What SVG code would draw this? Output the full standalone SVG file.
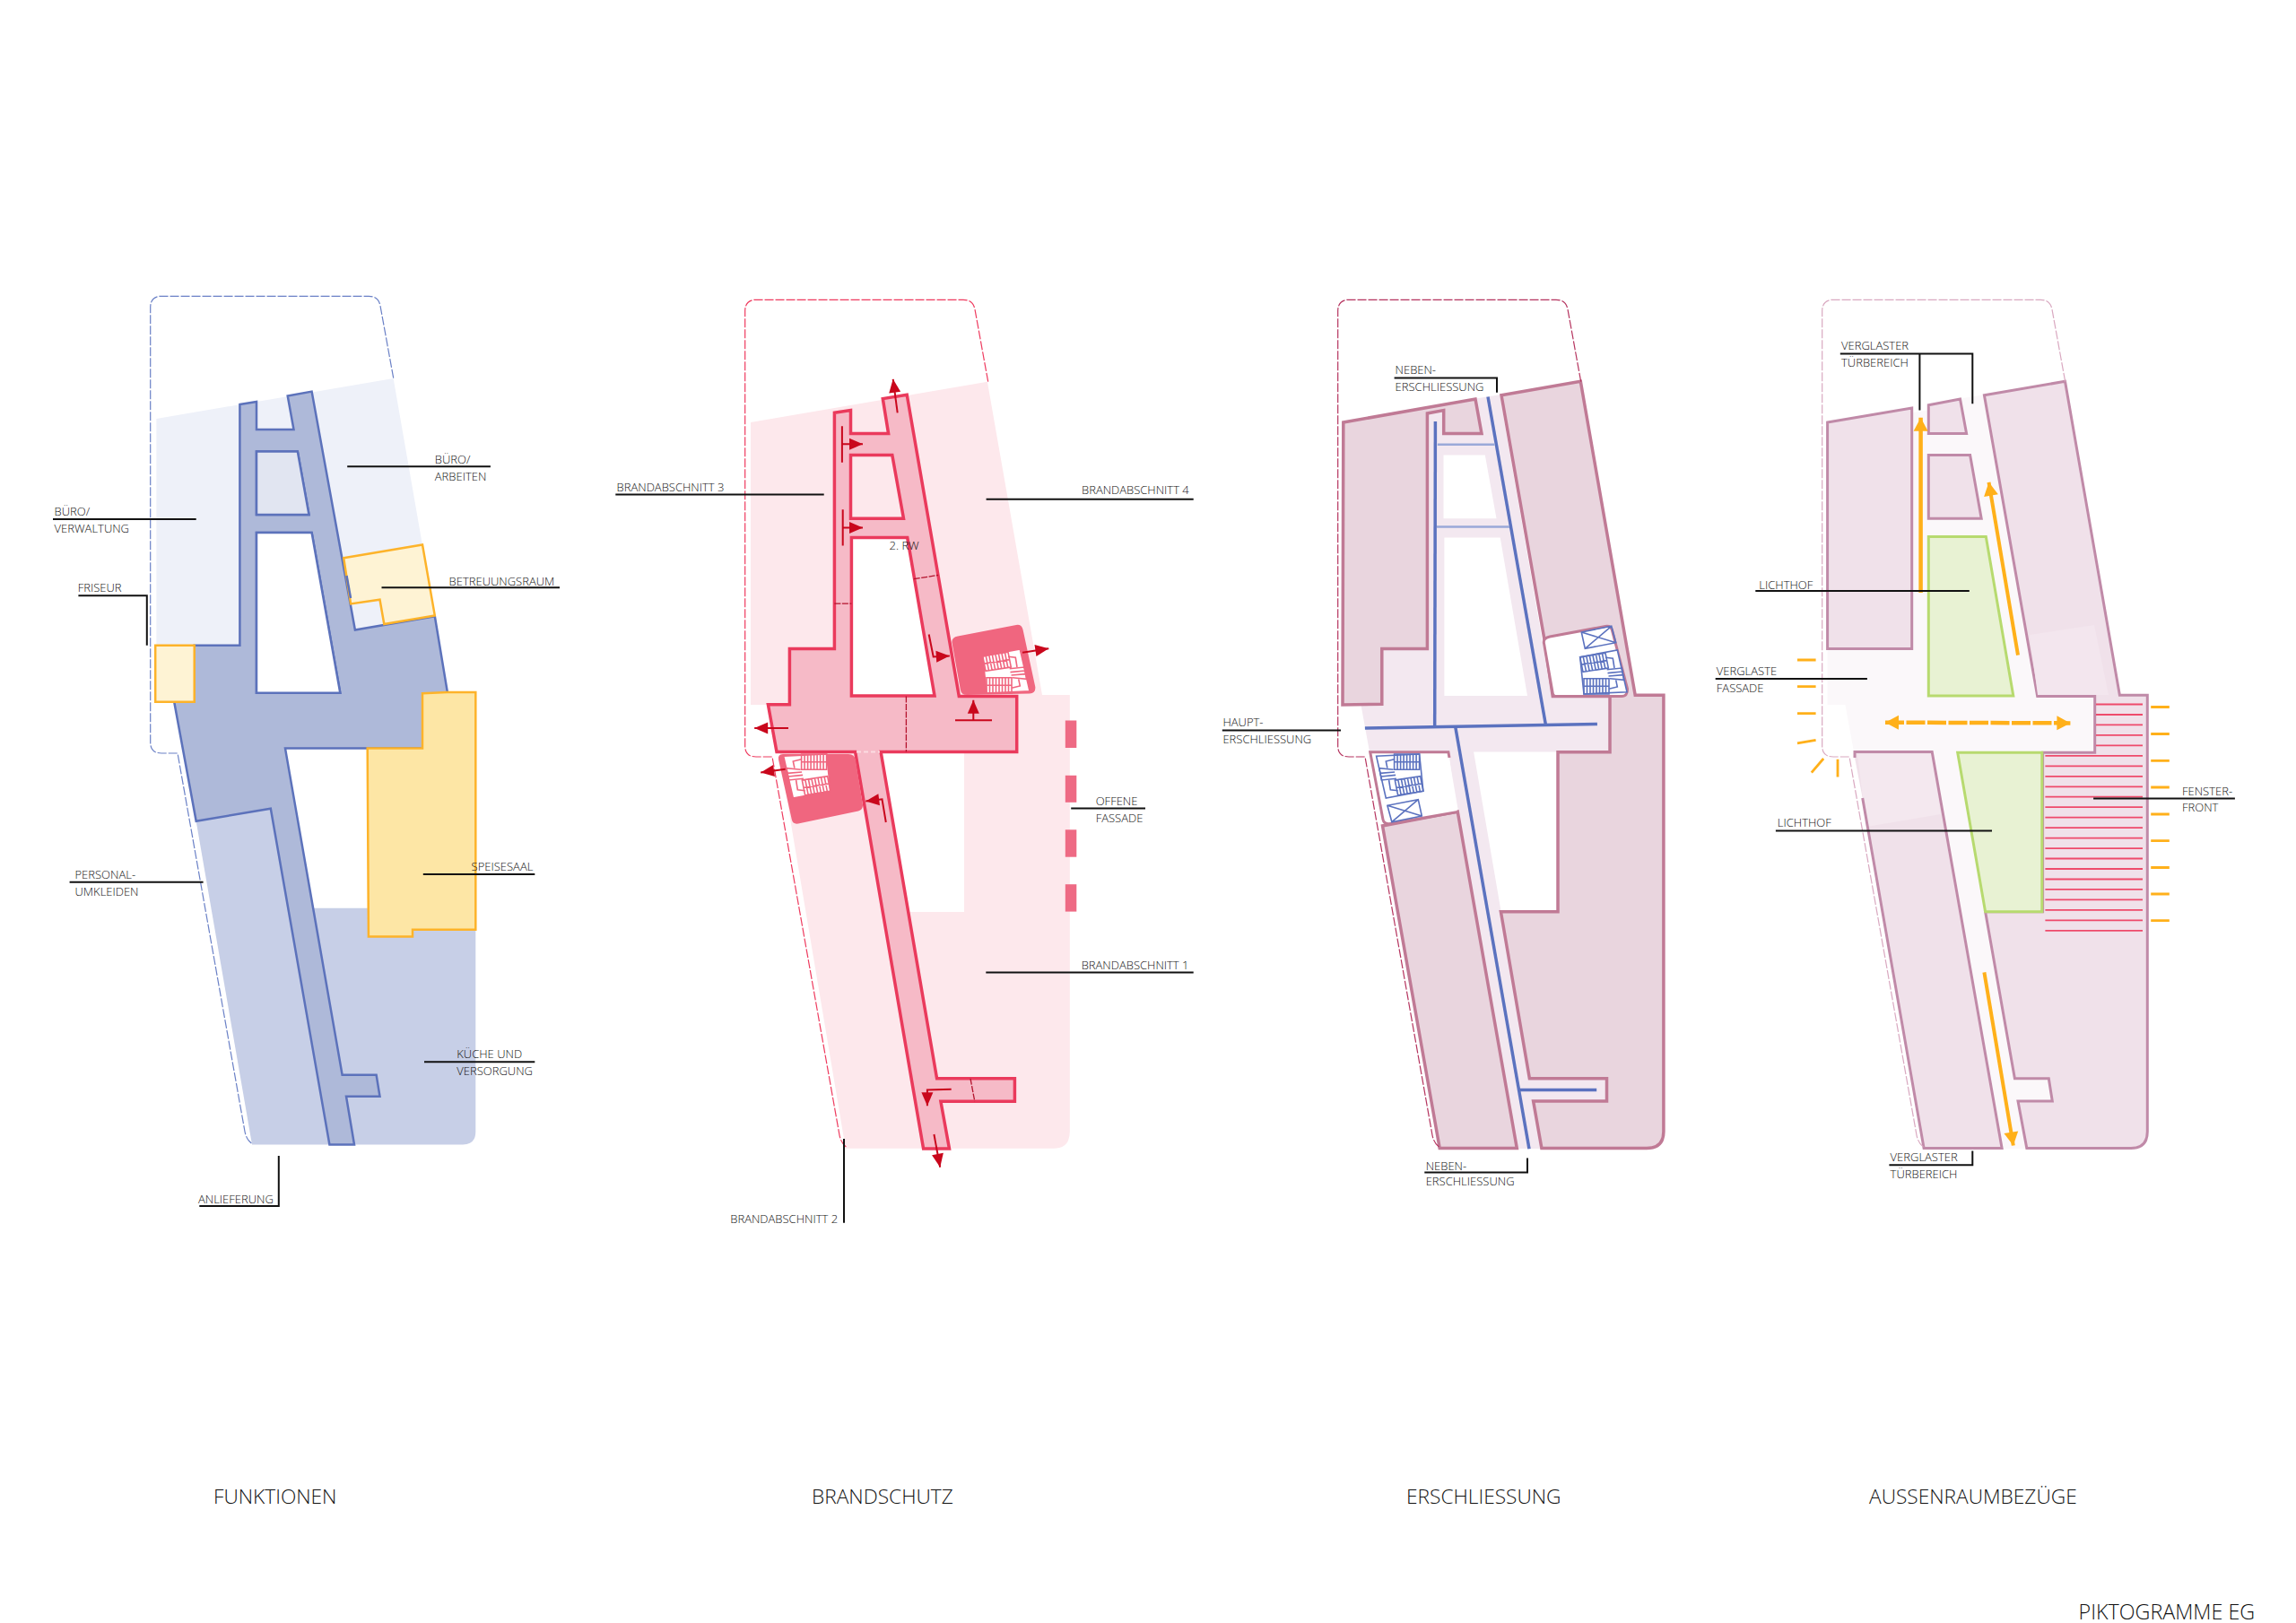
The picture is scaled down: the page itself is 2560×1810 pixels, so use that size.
<svg xmlns="http://www.w3.org/2000/svg" xmlns:xlink="http://www.w3.org/1999/xlink" width="2560" height="1810" viewBox="0 0 2560 1810">
<style>
text{font-family:"Open Sans","Noto Sans","Liberation Sans",sans-serif;font-weight:300;fill:#111}
.l{font-size:13px}
.t{font-size:22.7px}
.lead{fill:none;stroke:#111;stroke-width:2}
.dash{fill:none;stroke-width:1.2;stroke-dasharray:10 2}
.y{fill:#fef3d4;stroke:#fdb32a;stroke-width:2.5}
.blk3{fill:#e9d5de;stroke:#c07a95;stroke-width:3.5;stroke-linejoin:miter}
.blk4{fill:#f0e1ea;stroke:#c08aa8;stroke-width:3}
.gr{fill:#e8f2d3;stroke:#b7da6f;stroke-width:3}
.bl{stroke:#5b72bf;stroke-width:3.5;fill:none}
.bl2{stroke:#9aa9d8;stroke-width:2.5;fill:none}
.ar{stroke:#c9071c;stroke-width:2;fill:none}
.ard{stroke:#b3122c;stroke-width:1.3;fill:none;stroke-dasharray:7 1.5}
.or{stroke:#ffb01a;stroke-width:4;fill:none}
.orw{stroke:#ffb01a;stroke-width:4.5;fill:none}
.ort{stroke:#ffb01a;stroke-width:2.8;fill:none}
.rl{stroke:#ee4a6b;stroke-width:1.8}
.st{fill:none;stroke-width:1.6}
.st .bg{fill:#fff}
</style>
<defs>
<marker id="ah" markerUnits="userSpaceOnUse" markerWidth="17" markerHeight="14" refX="16" refY="7" orient="auto"><path d="M1,0.5 L16,7 L1,13.5 Z" fill="#c9071c"/></marker>
<marker id="oh" markerUnits="userSpaceOnUse" markerWidth="17" markerHeight="17" refX="16" refY="8.5" orient="auto"><path d="M1,0.5 L16,8.5 L1,16.5 Z" fill="#ffb01a"/></marker>
<marker id="ohs" markerUnits="userSpaceOnUse" markerWidth="17" markerHeight="17" refX="1" refY="8.5" orient="auto"><path d="M16,0.5 L1,8.5 L16,16.5 Z" fill="#ffb01a"/></marker>
<path id="corr" fill-rule="evenodd" d="M930.4,460.3 L948.5,457.5 L948.5,483.6 L990.6,483.6 L984.3,444.6 L1011.2,440.3 L1069.3,776.4 L1133.7,776.4 L1133.7,838.5 L982.1,838.5 L1044.6,1202.8 L1131.4,1202.8 L1131.4,1228.2 L1048.9,1228.2 L1058.5,1281.1 L1029.6,1281.1 L953.6,838.5 L866,838.5 L856.4,785.7 L880.4,785.7 L880.4,723.5 L930.4,723.5 Z M948.5,507.5 L994.8,507.5 L1007.5,578.2 L948.5,578.2 Z M949.4,599.6 L1011.7,599.6 L1042,776 L949.4,776 Z"/>
<path id="bound" d="M1101.7,425.7 L1087,345 Q1085,334.3 1074,334.3 L843,334.3 Q830.7,334.3 830.7,347 L830.7,832 Q830.7,844 843,844 L861,844 L936,1266 Q938,1276 945,1280"/>
<g id="stair" class="st">
<path class="bg" d="M1761.7,732.7 L1803.3,725 L1814,771.7 L1766,774 Z"/>
<path d="M1761.7,732.7 L1790,728.3 L1793.3,745 L1765,749.3 Z M1765.2,732.2 L1768.5,748.8 M1768.8,731.6 L1772.1,748.2 M1772.3,731 L1775.6,747.6 M1775.9,730.5 L1779.2,747.1 M1779.4,729.9 L1782.7,746.6 M1782.9,729.4 L1786.2,746 M1786.5,728.9 L1789.8,745.5 M1763.4,741 L1791.6,736.6"/>
<path d="M1766,756.7 L1794,756.7 L1794,774 L1766,774 Z M1769.5,756.7 V774 M1773,756.7 V774 M1776.5,756.7 V774 M1780,756.7 V774 M1783.5,756.7 V774 M1787,756.7 V774 M1790.5,756.7 V774 M1766,765.3 H1794"/>
<path d="M1791.7,746.7 L1808.3,745 L1810.7,758.3 L1795,756.7 M1792.5,750.6 L1809,749 M1793.5,754 L1810,752.6"/>
<path d="M1790,733.3 L1798.3,734.3 L1800,745 M1801.7,758.3 L1803.3,766 L1794,768.3"/>
</g>
<path id="lift" class="st" d="M1763.3,705 L1796.7,698.3 L1801.7,716.7 L1767.3,723.3 Z M1763.3,705 L1801.7,716.7 M1796.7,698.3 L1767.3,723.3"/>
</defs>
<rect width="2560" height="1810" fill="#fff"/>

<g id="panel-funktionen">
<path d="M174.4,467 L438.6,421.9 L484.8,687.3 L395.9,702.5 L267.4,719.8 L174.4,719.8 Z" fill="#eef1f9"/>
<path d="M218.7,916 L301.8,901.7 L367.4,1276.4 L281,1276.4 Z" fill="#c7cfe7"/>
<path d="M345,1012.7 L530.3,1012.7 L530.3,1262 Q530.3,1276.4 516,1276.4 L380,1276.4 Z" fill="#c7cfe7"/>
<path fill-rule="evenodd" fill="#aeb9d9" stroke="#5c72bb" stroke-width="2.5" d="M267.4,451 L286,447.9 L286,479.1 L327.5,479.1 L320.7,441.4 L347.6,436.6 L395.9,702.5 L484.8,687.3 L498.7,771 L510,834.6 L318,834.6 L381.6,1198.8 L419.6,1198.8 L423.5,1222.8 L386,1222.8 L395,1276.4 L367.4,1276.4 L301.8,901.7 L218.7,915.8 L194.2,782.7 L216.7,782.7 L216.7,719.8 L267.4,719.8 Z M286,503.4 L331.8,503.4 L344.5,574.1 L286,574.1 Z M286,594 L347.6,594 L379.3,772.8 L286,772.8 Z"/>
<path d="M286,503.4 L331.8,503.4 L344.5,574.1 L286,574.1 Z" fill="#e1e5f1" stroke="#5c72bb" stroke-width="2.5"/>
<path d="M286,594 L347.6,594 L379.3,772.8 L286,772.8 Z" fill="#fff" stroke="#5c72bb" stroke-width="2.5"/>
<path class="y" d="M383.2,622.3 L471,607.5 L484.8,686.4 L428.3,696 L423.5,668.7 L391.1,673.4 L383.2,622.3 Z"/>
<path d="M386.5,642 L391,667" fill="none" stroke="#5c72bb" stroke-width="2.5"/>
<path class="y" d="M173.2,719.8 H216.7 V782.7 H173.2 Z"/>
<path d="M471,773.2 L498.7,771.9 L530.3,771.9 L530.3,1036.7 L460,1036.7 L460,1044.5 L410.9,1044.5 L409.7,834.4 L471,834.4 Z" fill="#fde6a5" stroke="#fdb32a" stroke-width="2.5"/>
<use href="#bound" class="dash" stroke="#6a80c6" transform="translate(-663,-4)"/>
<path class="lead" d="M59,578.9 H218.7"/><text class="l" x="60.6" y="575.4">BÜRO/</text><text class="l" x="60.6" y="593.6">VERWALTUNG</text>
<path class="lead" d="M387.2,520.3 H546.9"/><text class="l" x="484.8" y="517.3">BÜRO/</text><text class="l" x="484.8" y="535.5">ARBEITEN</text>
<path class="lead" d="M425.5,655.2 H624"/><text class="l" x="500.6" y="652.6">BETREUUNGSRAUM</text>
<path class="lead" d="M87.4,664.3 H163.8 V719.8"/><text class="l" x="86.7" y="660.4">FRISEUR</text>
<path class="lead" d="M471.8,975 H596.3"/><text class="l" x="525.6" y="971.3">SPEISESAAL</text>
<path class="lead" d="M77.6,983.8 H226.6"/><text class="l" x="83.5" y="980.1">PERSONAL-</text><text class="l" x="83.5" y="998.6">UMKLEIDEN</text>
<path class="lead" d="M473,1184.3 H596.3"/><text class="l" x="509.3" y="1180.3">KÜCHE UND</text><text class="l" x="509.3" y="1198.8">VERSORGUNG</text>
<path class="lead" d="M222.3,1344.9 H310.8 V1289"/><text class="l" x="221" y="1341.9">ANLIEFERUNG</text>
<text class="t" x="238" y="1677">FUNKTIONEN</text>
</g>

<g id="panel-brandschutz">
<path d="M837,471 L1100.9,425.7 L1162,775 L1192.8,775 L1192.8,1262 Q1192.8,1280.7 1175,1280.7 L942.8,1280.7 L882,919 L870,841 L860,786 L837,786 Z" fill="#fde8ec"/>
<path d="M982,839 L1075,839 L1075,1017 L1014,1017 Z" fill="#fff"/>
<path d="M949.4,599.6 L1011.7,599.6 L1042,776 L949.4,776 Z" fill="#fff"/>
<use href="#corr" fill="#f6bac7" stroke="#ea3a5c" stroke-width="3.5"/>
<path d="M955,838.5 H981" fill="none" stroke="#fbdbe2" stroke-width="2" stroke-dasharray="5 3"/>
<path d="M1061.7,718 Q1060,711 1068,709.5 L1133,697 Q1139,696 1140.5,702 L1154.3,766 Q1155,773 1148,773.5 L1078,775 Q1072,775 1071,770 Z" fill="#f0667f"/>
<path d="M868,847 Q867,841 873,841 L946,841 Q953,841 954,848 L962,898 Q962,903 957,904.5 L890,918.5 Q884,919.5 882.8,914 Z" fill="#f0667f"/>
<use href="#stair" stroke="#f0667f" transform="translate(-666,-1)"/>
<use href="#stair" stroke="#f0667f" transform="translate(-661,0) rotate(180 1674.3 807.5)"/>
<path class="ard" d="M930.4,673.2 H949.4 M1018.8,645.7 L1046.2,641.4 M1010.4,776.4 V838.5 M1082,1202.8 L1086.8,1228.2"/>
<rect x="1187.8" y="803.5" width="12.5" height="30.5" fill="#ee6a84"/>
<rect x="1187.8" y="864.8" width="12.5" height="30" fill="#ee6a84"/>
<rect x="1187.8" y="925.3" width="12.5" height="30.4" fill="#ee6a84"/>
<rect x="1187.8" y="986.2" width="12.5" height="30.4" fill="#ee6a84"/>
<use href="#bound" class="dash" stroke="#ee3a5e"/>
<g id="escape-arrows">
<path class="ar" d="M1000.7,460.3 L995.7,422.8" marker-end="url(#ah)"/>
<path class="ar" d="M938.9,475.3 V515.7 M938.9,495.3 H962" marker-end="url(#ah)"/>
<path class="ar" d="M939.7,568.2 V608.5 M939.7,588.5 H962" marker-end="url(#ah)"/>
<path class="ar" d="M1035.7,707.5 L1040.7,732.5 L1058.8,731.4" marker-end="url(#ah)"/>
<path class="ar" d="M1065,803.2 H1106 M1085.3,803.2 V780.7" marker-end="url(#ah)"/>
<path class="ar" d="M879,812 H841.2" marker-end="url(#ah)"/>
<path class="ar" d="M1140,727.7 L1169.3,723.3" marker-end="url(#ah)"/>
<path class="ar" d="M875.7,857.7 L848.2,861.6" marker-end="url(#ah)"/>
<path class="ar" d="M987.8,917 L983.5,891.3 L965.3,893.6" marker-end="url(#ah)"/>
<path class="ar" d="M1060.7,1214.7 L1033.9,1215.5 V1233.3" marker-end="url(#ah)"/>
<path class="ar" d="M1041.4,1265 L1048.2,1301.7" marker-end="url(#ah)"/>
</g>
<text class="l" x="991.5" y="612.8">2. RW</text>
<path class="lead" d="M686.3,551.4 H918.7"/><text class="l" x="687.6" y="547.5">BRANDABSCHNITT 3</text>
<path class="lead" d="M1099.6,556.8 H1330.7"/><text class="l" x="1206" y="551.4">BRANDABSCHNITT 4</text>
<path class="lead" d="M1194.2,901.6 H1277"/><text class="l" x="1221.7" y="898.4">OFFENE</text><text class="l" x="1221.7" y="916.6">FASSADE</text>
<path class="lead" d="M1099.3,1084.6 H1330.7"/><text class="l" x="1205.7" y="1081">BRANDABSCHNITT 1</text>
<path class="lead" d="M941,1270 V1363.8"/><text class="l" x="814.3" y="1363.8">BRANDABSCHNITT 2</text>
<text class="t" x="905" y="1677">BRANDSCHUTZ</text>
</g>

<g id="panel-erschliessung">
<use href="#corr" fill="#f3e8f0" transform="translate(661,0)"/>
<path class="blk3" d="M1497.8,471 L1645,445 L1652,483.6 L1609.7,483.6 L1609.7,457.5 L1591.4,461 L1591.4,723.5 L1540.8,723.5 L1540.8,785.3 L1497,786 Z"/>
<path class="blk3" d="M1674,440.7 L1762.3,425.3 L1823.2,775.3 L1854.9,775.3 L1854.9,1262 Q1854.9,1280.5 1836,1280.5 L1718.9,1280.5 L1709.6,1228 L1791.5,1228 L1791.5,1202.8 L1705.4,1202.8 L1673.4,1016.7 L1737,1016.7 L1737,838.8 L1795,838.8 L1795,776.4 L1731.3,776.4 L1721.6,711 Z"/>
<path d="M1721.6,718 Q1720,711.5 1728,710 L1790,698.5 Q1796,697.5 1797.5,703 L1814.5,768 Q1815,776.4 1808,776.4 L1734,776.4 Q1731.3,776 1731,772 Z" fill="#fff" stroke="#c07a95" stroke-width="3"/>
<path class="blk3" d="M1541.5,921 L1605.2,1280.5 L1691.3,1280.5 L1625.2,905 Z"/>
<path d="M1616,845 L1614.9,838.8 L1527.7,838.8 L1542,914 Q1543,919 1549,918.7 L1625.2,905.5 L1623,899 Z" fill="#fff"/>
<path d="M1616,845 L1614.9,838.8 L1527.7,838.8 L1542,914 Q1543,919 1549,918.7 L1625.2,905.5" fill="none" stroke="#c07a95" stroke-width="3"/>
<use href="#stair" stroke="#5b72bf"/>
<use href="#lift" stroke="#5b72bf"/>
<use href="#stair" stroke="#5b72bf" transform="rotate(180 1674.3 807.5)"/>
<use href="#lift" stroke="#5b72bf" transform="rotate(180 1674.3 807.5)"/>
<use href="#bound" class="dash" stroke="#b5335e" transform="translate(661,0)"/>
<g id="routes">
<path class="bl" d="M1600.4,470 L1599.7,810"/>
<path class="bl" d="M1659,442.5 L1723.3,807.5"/>
<path class="bl" d="M1521.9,812 L1780.9,807.5"/>
<path class="bl" d="M1622.8,811 L1705,1281.2"/>
<path class="bl" d="M1694,1215.4 H1780.2"/>
<path class="bl2" d="M1602.8,495.7 H1666.5"/>
<path class="bl2" d="M1602,587.5 H1683"/>
</g>
<path class="lead" d="M1554.6,421.4 H1669 V437.8"/><text class="l" x="1555.6" y="417">NEBEN-</text><text class="l" x="1555.6" y="436">ERSCHLIESSUNG</text>
<path class="lead" d="M1362.8,814.6 H1495"/><text class="l" x="1363.4" y="810.3">HAUPT-</text><text class="l" x="1363.4" y="829">ERSCHLIESSUNG</text>
<path class="lead" d="M1588.3,1307.5 H1703 V1291.6"/><text class="l" x="1589.7" y="1304.5">NEBEN-</text><text class="l" x="1589.7" y="1322">ERSCHLIESSUNG</text>
<text class="t" x="1568" y="1677">ERSCHLIESSUNG</text>
</g>

<g id="panel-aussenraum">
<use href="#corr" fill="#fbf8fa" transform="translate(1201,0)"/>
<path d="M2037.6,723.5 H2082 V786 H2037.6 Z" fill="#fbf8fa"/>
<path class="blk4" d="M2037.6,471 L2131.7,455 L2131.7,723.5 L2037.6,723.5 Z"/>
<path class="blk4" d="M2150.3,451.8 L2185.5,445 L2192.6,483.6 L2150.3,483.6 Z"/>
<path class="blk4" d="M2150.3,507.5 L2196.6,507.5 L2209.2,578.2 L2150.3,578.2 Z"/>
<path d="M2212.4,440.7 L2302.5,425.3 L2363.4,775.3 L2394.3,775.3 L2394.3,1262 Q2394.3,1280.5 2376,1280.5 L2259.8,1280.5 L2250,1228 L2288.3,1228 L2284.3,1202.8 L2246.4,1202.8 L2213.6,1016.7 L2277.6,1016.7 L2277.6,839.2 L2335.7,839.2 L2335.7,776.4 L2271.7,776.4 Z" class="blk4"/>
<path d="M2263,708 L2335,697 L2351,775 L2272,775 Z" fill="#f3e6ee"/>
<path d="M2068,838.4 L2154.2,838.4 L2232.1,1280.5 L2145.1,1280.5 L2076.7,890 L2068,845 Z" fill="#f0e1ea"/>
<path d="M2071,841 L2154,841 L2164,908 L2081,922 Z" fill="#f4e8ef"/>
<path d="M2068,845 L2068,838.4 L2154.2,838.4 L2232.1,1280.5 L2145.1,1280.5 L2076.7,890" fill="none" stroke="#c08aa8" stroke-width="3"/>
<path class="gr" d="M2150.3,598.5 L2214.3,598.5 L2244.8,776 L2150.3,776 Z"/>
<path class="gr" d="M2182.7,839.2 L2276.8,839.2 L2276.8,1016.7 L2213.6,1016.7 Z"/>
<g id="window-lines">
<path class="rl" d="M2337,785.5 H2389 M2337,797 H2389 M2337,808.4 H2389 M2337,819.9 H2389 M2337,831.4 H2389 M2280.4,842.9 H2389 M2280.4,854.3 H2389 M2280.4,865.8 H2389 M2280.4,877.3 H2389 M2280.4,888.7 H2389 M2280.4,900.2 H2389 M2280.4,911.7 H2389 M2280.4,923.1 H2389 M2280.4,934.6 H2389 M2280.4,946.1 H2389 M2280.4,957.5 H2389 M2280.4,969 H2389 M2280.4,980.5 H2389 M2280.4,991.9 H2389 M2280.4,1003.4 H2389 M2280.4,1014.9 H2389 M2280.4,1026.3 H2389 M2280.4,1037.8 H2389"/>
</g>
<g id="light-arrows">
<path class="orw" d="M2141.6,661 V465.7" marker-end="url(#oh)"/>
<path class="or" d="M2250,730.7 L2217.5,537.8" marker-end="url(#oh)"/>
<path class="or" d="M2212.4,1084.4 L2244.8,1277.5" marker-end="url(#oh)"/>
<path class="orw" stroke-dasharray="21 2.5" d="M2102,805.7 L2308.4,806.4" marker-start="url(#ohs)" marker-end="url(#oh)"/>
<path class="ort" d="M2004,736 H2024.6 M2004,765.7 H2024.6 M2004,795.7 H2024.6 M2004,828.9 L2024.6,825.3 M2019.8,861.7 L2033.2,846 M2049,846.7 V866.4"/>
<path class="ort" d="M2398.2,788.5 H2418.8 M2398.2,818.5 H2418.8 M2398.2,848.4 H2418.8 M2398.2,878 H2418.8 M2398.2,908 H2418.8 M2398.2,937.6 H2418.8 M2398.2,967.5 H2418.8 M2398.2,997 H2418.8 M2398.2,1026.7 H2418.8"/>
</g>
<use href="#bound" class="dash" stroke="#d9a8c0" transform="translate(1201,0)"/>
<path class="lead" d="M2051.8,394.6 H2199.3 V450.3 M2140.4,394.6 V457.5"/><text class="l" x="2053" y="390.3">VERGLASTER</text><text class="l" x="2053" y="408.6">TÜRBEREICH</text>
<path class="lead" d="M1957.3,658.9 H2195.8"/><text class="l" x="1961.3" y="656.7">LICHTHOF</text>
<path class="lead" d="M1912.7,757.1 H2081.9"/><text class="l" x="1913.8" y="753.2">VERGLASTE</text><text class="l" x="1913.8" y="771.7">FASSADE</text>
<path class="lead" d="M1979.9,926.5 H2221"/><text class="l" x="1981.8" y="922.4">LICHTHOF</text>
<path class="lead" d="M2334.1,890.6 H2491.9"/><text class="l" x="2433" y="886.9">FENSTER-</text><text class="l" x="2433" y="905">FRONT</text>
<path class="lead" d="M2106.4,1299.3 H2199.3 V1283.4"/><text class="l" x="2107.6" y="1295.3">VERGLASTER</text><text class="l" x="2107.6" y="1313.8">TÜRBEREICH</text>
<text class="t" x="2084" y="1677">AUSSENRAUMBEZÜGE</text>
</g>
<text id="sheet-title" x="2317.5" y="1806" style="font-size:23.3px">PIKTOGRAMME EG</text>
</svg>
